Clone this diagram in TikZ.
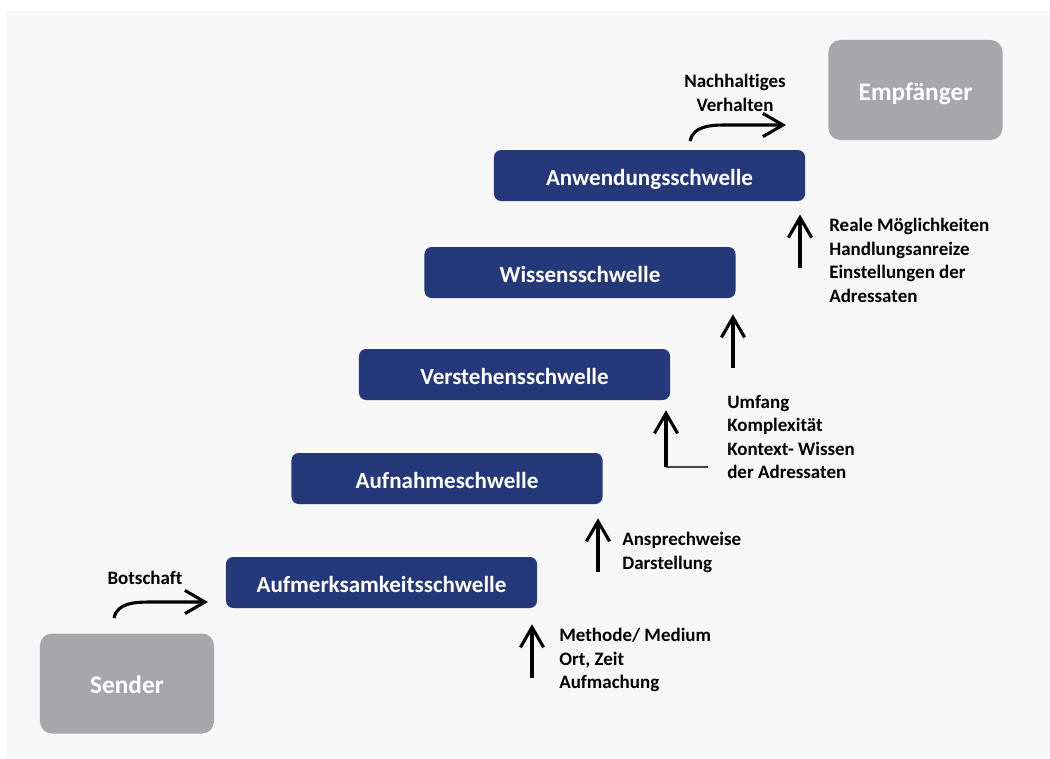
\documentclass[tikz,border=0pt]{standalone}
\usepackage{fontspec}
\setmainfont{Carlito}[RawFeature=-liga]
\usetikzlibrary{positioning,arrows.meta}

\definecolor{schwellblau}{RGB}{36,56,122}
\definecolor{polgrau}{RGB}{167,166,171}
\definecolor{hintergrund}{RGB}{247,247,247}
\definecolor{knickgrau}{RGB}{70,70,70}

\tikzset{
  schwelle/.style={rectangle, rounded corners=0.18cm, fill=schwellblau, text=white,
    font=\bfseries\fontsize{16.4}{19}\selectfont, text height=16pt, text depth=2pt,
    minimum width=7.775cm, minimum height=1.275cm},
  pol/.style={rectangle, rounded corners=0.3cm, fill=polgrau, text=white,
    font=\bfseries\fontsize{18}{21}\selectfont, text height=16pt, text depth=1.2pt,
    minimum width=4.35cm, minimum height=2.5cm},
  hinweis/.style={align=left, anchor=west, inner sep=0pt,
    font=\bfseries\fontsize{13.5}{16.7}\selectfont},
  pfeil/.style={-{Straight Barb[length=0.5cm,width=0.58cm]}, line width=2.2pt},
}

\begin{document}
\begin{tikzpicture}[x=0.025cm, y=-0.025cm]
	\useasboundingbox (0,0) rectangle (1050,758);
	\fill[hintergrund] (7,11) rectangle (1050,757);

	% Sender und Empfaenger
	\node[pol] (sender) at (127,683.5) {Sender};
	\node[pol] (empf) at (915.5,90) {Empfänger};

	% Schwellen
	\node[schwelle] (aufm) at (381.5,582.5) {Aufmerksamkeitsschwelle};
	\node[schwelle] (aufn) at (447,478.5) {Aufnahmeschwelle};
	\node[schwelle] (verst) at (514.5,374.5) {Verstehensschwelle};
	\node[schwelle] (wissen) at (580,272.5) {Wissensschwelle};
	\node[schwelle] (anw) at (649.5,175.5) {Anwendungsschwelle};

	% Hinweise
	\node[hinweis, anchor=center, align=center] (botschaft) at (145,578) {Botschaft};
	\node[hinweis, anchor=center, align=center] (verhalten) at (735,93) {Nachhaltiges\\Verhalten};
	\node[hinweis] (methode) at (559,660) {Methode/ Medium\\Ort, Zeit\\Aufmachung};
	\node[hinweis] (ansprache) at (622,552.5) {Ansprechweise\\Darstellung};
	\node[hinweis] (umfang) at (727,437) {Umfang\\Komplexität\\Kontext- Wissen\\der Adressaten};
	\node[hinweis] (reale) at (829,260.5) {Reale Möglichkeiten\\Handlungsanreize\\Einstellungen der\\Adressaten};

	% Pfeile
	\coordinate (b0) at (114,618);
	\coordinate (b1) at (208,602);
	\draw[pfeil] (b0) to[out=78,in=180] (150,602) -- (b1);
	\coordinate (v0) at (690,141);
	\coordinate (v1) at (786,125);
	\draw[pfeil] (v0) to[out=78,in=180] (724,125) -- (v1);

	\coordinate (fuss1) at (532,678);
	\draw[pfeil, shorten >=0.4cm] (fuss1) -- (fuss1 |- aufm.south);
	\coordinate (fuss2) at (598,572);
	\draw[pfeil, shorten >=0.35cm] (fuss2) -- (fuss2 |- aufn.south);
	\coordinate (knick) at (708,467);
	\coordinate (fuss3) at (666,467);
	\draw[knickgrau, line width=1.8pt] (knick) -- (fuss3);
	\draw[pfeil, shorten >=0.25cm] (fuss3) -- (fuss3 |- verst.south);
	\coordinate (fuss4) at (733,368);
	\draw[pfeil, shorten >=0.4cm] (fuss4) -- (fuss4 |- wissen.south);
	\coordinate (fuss5) at (800,268);
	\draw[pfeil, shorten >=0.33cm] (fuss5) -- (fuss5 |- anw.south);
\end{tikzpicture}
\end{document}
